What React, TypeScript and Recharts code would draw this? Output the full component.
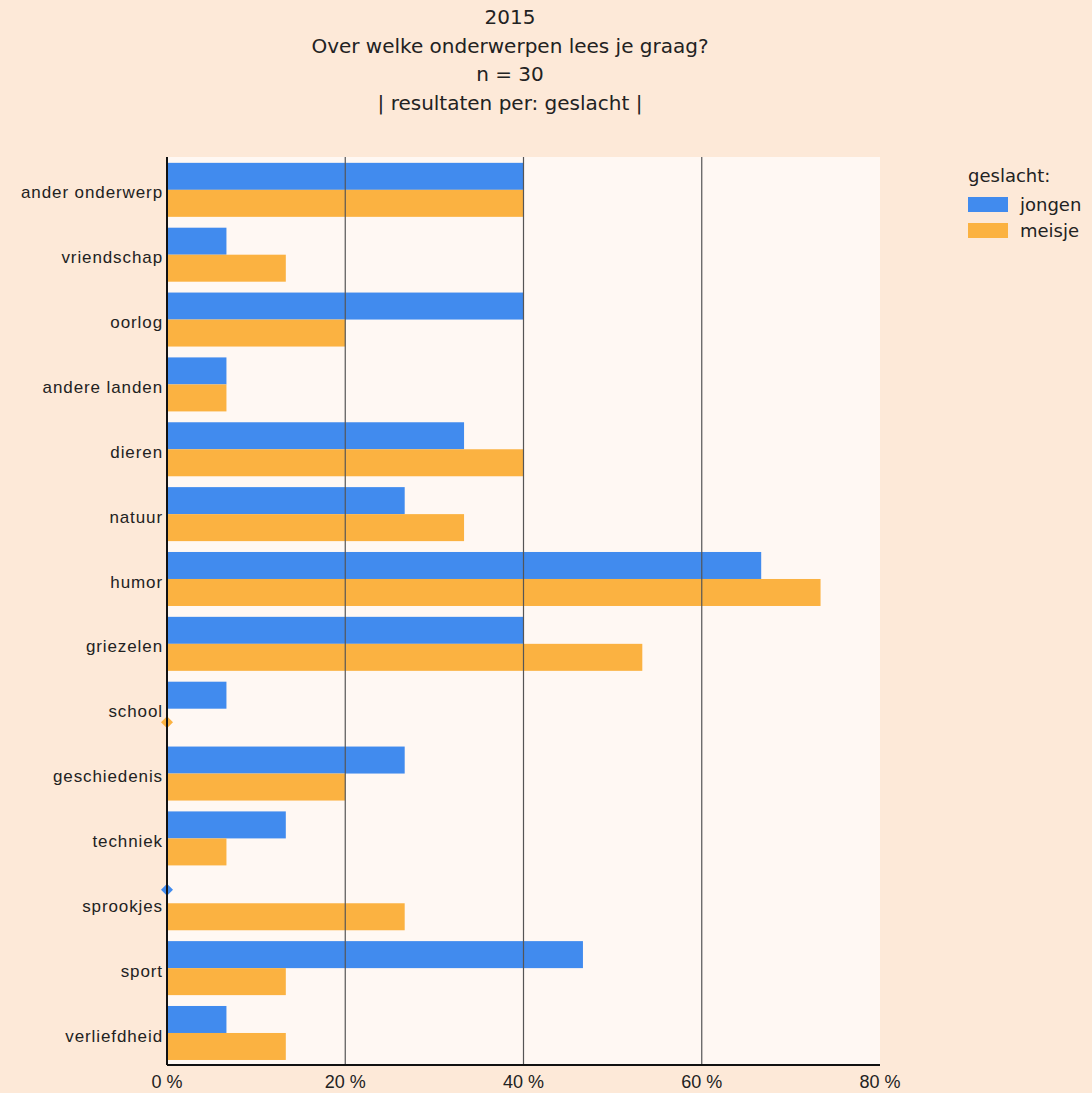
import { Bar, BarChart, CartesianGrid, ReferenceLine, XAxis, YAxis } from "recharts";

const categories = [
  "ander onderwerp", "vriendschap", "oorlog", "andere landen", "dieren", "natuur", "humor",
  "griezelen", "school", "geschiedenis", "techniek", "sprookjes", "sport", "verliefdheid",
];
const jongen = [40, 6.67, 40, 6.67, 33.33, 26.67, 66.67, 40, 6.67, 26.67, 13.33, 0, 46.67, 6.67];
const meisje = [40, 13.33, 20, 6.67, 40, 33.33, 73.33, 53.33, 0, 20, 6.67, 26.67, 13.33, 13.33];
const xTicks = [0, 20, 40, 60, 80];
const titleLines = ["2015", "Over welke onderwerpen lees je graag?", "n = 30", "| resultaten per: geslacht |"];

const BLUE = "#418BEE";
const ORANGE = "#FBB241";
const PAGE_BG = "#FDE9D8";
const PLOT_BG = "#FFF8F3";
const TITLE_FONT = '"DejaVu Sans", Verdana, sans-serif';
const AXIS_FONT = '"Liberation Sans", Arial, sans-serif';

const data = categories.map((name, i) => ({ name, jongen: jongen[i], meisje: meisje[i] }));

// zero values get a little diamond on the axis instead of a bar
const barShape = (key: "jongen" | "meisje", color: string) => (props: any) => {
  const { x, y, width, height, payload } = props;
  if (payload[key] === 0) {
    const cy = y + height / 2, r = 6;
    return <path d={`M${x - r},${cy} L${x},${cy - r} L${x + r},${cy} L${x},${cy + r} Z`} fill={color} />;
  }
  return <rect x={x} y={y} width={width} height={height} fill={color} />;
};

export default function App() {
  return (
    <div style={{ position: "absolute", left: 0, top: 0, width: 1092, height: 1093, background: PAGE_BG, overflow: "hidden" }}>
      <div style={{ position: "absolute", left: 0, top: 3, width: 1020, textAlign: "center",
                    fontFamily: TITLE_FONT, fontSize: 20, lineHeight: "28.7px", color: "#222" }}>
        {titleLines.map((t) => <div key={t}>{t}</div>)}
      </div>
      <BarChart width={1092} height={1093} data={data} layout="vertical"
                margin={{ top: 157, right: 212, bottom: 0, left: 7 }}
                barCategoryGap="9%" barGap={0}>
        <CartesianGrid horizontal={false} vertical={false} fill={PLOT_BG} />
        {[20, 40, 60].map((v) => <ReferenceLine key={v} x={v} stroke="#555" strokeWidth={1.2} />)}
        <XAxis type="number" domain={[0, 80]} ticks={xTicks} tickFormatter={(v: number) => `${v} %`}
               height={28} stroke="#111" strokeWidth={2} tickLine={false} tickMargin={4}
               tick={{ fontFamily: AXIS_FONT, fontSize: 18, fill: "#222" }} />
        <YAxis type="category" dataKey="name" width={160} stroke="#111" strokeWidth={2}
               tickLine={false} tickMargin={-2} interval={0}
               tick={{ fontFamily: AXIS_FONT, fontSize: 17, letterSpacing: 0.9, fill: "#222", dy: 3 }} />
        <Bar dataKey="jongen" fill={BLUE} shape={barShape("jongen", BLUE)} isAnimationActive={false} />
        <Bar dataKey="meisje" fill={ORANGE} shape={barShape("meisje", ORANGE)} isAnimationActive={false} />
      </BarChart>
      <div style={{ position: "absolute", left: 968, top: 165, fontFamily: TITLE_FONT, fontSize: 18, color: "#222" }}>
        <div style={{ marginBottom: 5 }}>geslacht:</div>
        {[["jongen", BLUE], ["meisje", ORANGE]].map(([label, color]) => (
          <div key={label} style={{ display: "flex", alignItems: "center", height: 26 }}>
            <span style={{ width: 40, height: 15, background: color, marginRight: 12 }} />
            {label}
          </div>
        ))}
      </div>
    </div>
  );
}
